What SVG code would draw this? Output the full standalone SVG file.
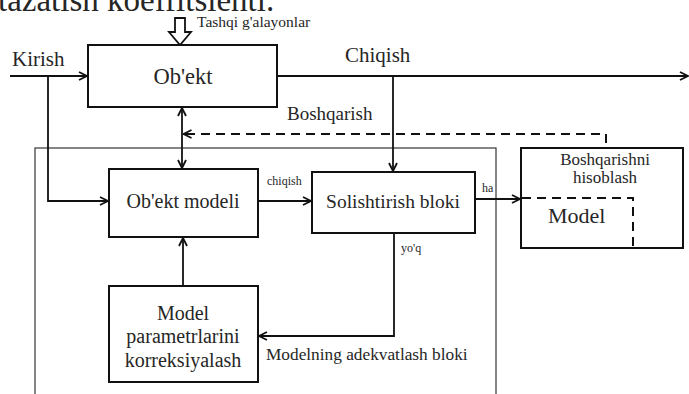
<svg xmlns="http://www.w3.org/2000/svg" width="689" height="394" viewBox="0 0 689 394">
<defs>
<style>
text{font-family:"Liberation Serif","Times New Roman",serif;fill:#262626}
.box{fill:#fff;stroke:#111;stroke-width:2}
.ln{fill:none;stroke:#111;stroke-width:1.8}
.dash{fill:none;stroke:#111;stroke-width:2;stroke-dasharray:9,6}
.frame{fill:none;stroke:#444;stroke-width:1.3}
</style>
<marker id="ah" viewBox="0 0 10 10" refX="9" refY="5" markerWidth="10" markerHeight="10" markerUnits="userSpaceOnUse" orient="auto-start-reverse">
<path d="M1,1 L9,5 L1,9" fill="none" stroke="#111" stroke-width="1.8"/>
</marker>
</defs>
<rect width="689" height="394" fill="#fff"/>
<text x="-2" y="11" font-size="33">tazatish koeffitsienti.</text>
<text x="197" y="27" font-size="15.5">Tashqi g'alayonlar</text>
<text x="12" y="66" font-size="21">Kirish</text>
<text x="345" y="62" font-size="21">Chiqish</text>
<text x="287" y="120" font-size="19">Boshqarish</text>
<text x="267" y="185" font-size="12">chiqish</text>
<text x="482" y="192" font-size="12">ha</text>
<text x="401" y="252" font-size="12">yo'q</text>
<text x="266" y="360" font-size="17.3">Modelning adekvatlash bloki</text>
<rect class="frame" x="35" y="148" width="461" height="260"/>
<g id="connectors">
<path class="ln" d="M10,76 H87" marker-end="url(#ah)"/>
<path class="ln" d="M277,76 H688" marker-end="url(#ah)"/>
<path class="ln" d="M48,76 V201 H108" marker-end="url(#ah)"/>
<path class="ln" d="M182,108 V168" marker-start="url(#ah)" marker-end="url(#ah)"/>
<path class="ln" d="M393,76 V171" marker-end="url(#ah)"/>
<path class="ln" d="M258,201 H311" marker-end="url(#ah)"/>
<path class="ln" d="M475,199 H520" marker-end="url(#ah)"/>
<path class="ln" d="M394,233 V336 H259" marker-end="url(#ah)"/>
<path class="ln" d="M183,286 V238" marker-end="url(#ah)"/>
<path class="dash" d="M606,143 V134 H184"/>
<path class="ln" d="M192,134 L183.5,134" marker-end="url(#ah)"/>
<path d="M175,18 H185 V32 H191 L180,45 L169,32 H175 Z" fill="#fff" stroke="#111" stroke-width="1.8"/>
</g>
<g id="obekt">
<rect class="box" x="88" y="45" width="189" height="62"/>
<text x="183" y="84" font-size="22.5" text-anchor="middle">Ob'ekt</text>
</g>
<g id="obekt-modeli">
<rect class="box" x="109" y="169" width="149" height="68"/>
<text x="183" y="208" font-size="20" text-anchor="middle">Ob'ekt modeli</text>
</g>
<g id="solishtirish">
<rect class="box" x="312" y="172" width="163" height="61"/>
<text x="393" y="208" font-size="19.5" text-anchor="middle">Solishtirish bloki</text>
</g>
<g id="korreksiya">
<rect class="box" x="109" y="286" width="149" height="96"/>
<text x="183" y="320" font-size="20" text-anchor="middle">Model</text>
<text x="183" y="343" font-size="20" text-anchor="middle">parametrlarini</text>
<text x="183" y="367" font-size="20" text-anchor="middle">korreksiyalash</text>
</g>
<g id="boshqarishni">
<rect class="box" x="521" y="148" width="162" height="100"/>
<text x="605" y="165" font-size="17" text-anchor="middle">Boshqarishni</text>
<text x="605" y="183" font-size="17" text-anchor="middle">hisoblash</text>
<path class="dash" d="M522,198 H633 V248" stroke-dasharray="7,5"/>
<text x="548" y="223" font-size="22">Model</text>
</g>
</svg>
